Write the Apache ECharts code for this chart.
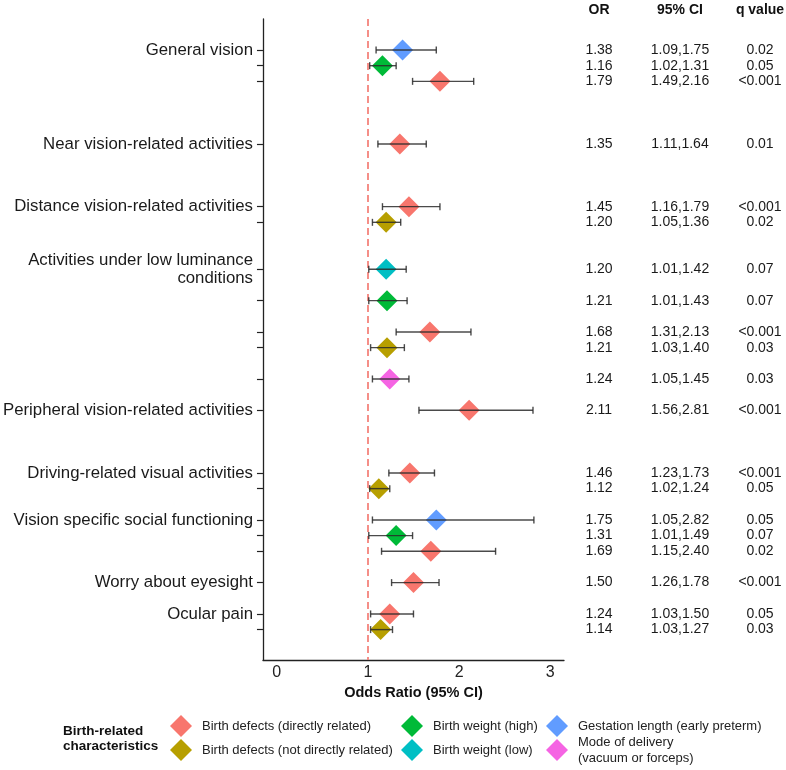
<!DOCTYPE html>
<html><head><meta charset="utf-8">
<script src="https://cdn.jsdelivr.net/npm/echarts@6/dist/echarts.min.js"></script>
<style>html,body{margin:0;padding:0;background:#fff}#c{width:786px;height:770px}</style>
</head><body><div id="c"></div>
<script>
// ---- data ----
var categories = ['Birth defects (directly related)','Birth defects (not directly related)','Birth weight (high)','Birth weight (low)','Gestation length (early preterm)','Mode of delivery\n(vacuum or forceps)'];
var colors = ['#F8766D','#B79F00','#00BA38','#00BFC4','#619CFF','#F564E3'];
var outcomeRows = [0,6,10,14,23,27,30,34,36];
var outcomeNames = ['General vision','Near vision-related activities','Distance vision-related activities','Activities under low luminance\nconditions','Peripheral vision-related activities','Driving-related visual activities','Vision specific social functioning','Worry about eyesight','Ocular pain'];
var rows  = [0,1,2,6,10,11,14,16,18,19,21,23,27,28,30,31,32,34,36,37];
var group = [4,2,0,0,0,1,3,2,0,1,5,0,0,1,4,2,0,0,0,1];
var orVal = [1.38,1.16,1.79,1.35,1.45,1.20,1.20,1.21,1.68,1.21,1.24,2.11,1.46,1.12,1.75,1.31,1.69,1.50,1.24,1.14];
var lower = [1.09,1.02,1.49,1.11,1.16,1.05,1.01,1.01,1.31,1.03,1.05,1.56,1.23,1.02,1.05,1.01,1.15,1.26,1.03,1.03];
var upper = [1.75,1.31,2.16,1.64,1.79,1.36,1.42,1.43,2.13,1.40,1.45,2.81,1.73,1.24,2.82,1.49,2.40,1.78,1.50,1.27];
var qVal  = ['0.02','0.05','<0.001','0.01','<0.001','0.02','0.07','0.07','<0.001','0.03','0.03','<0.001','<0.001','0.05','0.05','0.07','0.02','<0.001','0.05','0.03'];
var xTicks = [0,1,2,3];
var headers = ['OR','95% CI','q value'];

var FONT = '"Liberation Sans", Arial, sans-serif';
var chart = echarts.init(document.getElementById('c'), null, {renderer:'canvas'});

var series = [];
categories.forEach(function(name, g){
  var d = [];
  rows.forEach(function(r,i){ if(group[i]===g) d.push([orVal[i], r]); });
  series.push({
    name: name, type:'scatter', symbol:'diamond', symbolSize:21,
    itemStyle:{color:colors[g], opacity:1}, data:d, z:3,
    emphasis:{disabled:true}
  });
});
// dashed reference line
series[0].markLine = {
  silent:true, symbol:'none', label:{show:false},
  lineStyle:{color:'#F4837C', type:[7,4], width:1.8},
  data:[{xAxis:1}]
};
// error bars
series.push({
  type:'custom', name:'ci', z:5, clip:false,
  data: rows.map(function(r,i){ return [lower[i], r, upper[i]]; }),
  renderItem: function(params, api){
    var a = api.coord([api.value(0), api.value(1)]);
    var b = api.coord([api.value(2), api.value(1)]);
    var h = 3.5;
    var st = {stroke:'#2a2a2a', lineWidth:1.4, opacity:0.85};
    return {type:'group', children:[
      {type:'line', shape:{x1:a[0],y1:a[1],x2:b[0],y2:b[1]}, style:st},
      {type:'line', shape:{x1:a[0],y1:a[1]-h,x2:a[0],y2:a[1]+h}, style:st},
      {type:'line', shape:{x1:b[0],y1:b[1]-h,x2:b[0],y2:b[1]+h}, style:st}
    ]};
  }
});
// right-side text columns
var colX = [599, 680, 760];
series.push({
  type:'custom', name:'tbl', z:5, clip:false, silent:true,
  data: rows.map(function(r,i){ return [orVal[i], r, i]; }),
  renderItem: function(params, api){
    var i = api.value(2);
    var y = api.coord([1, api.value(1)])[1];
    var txt = [orVal[i].toFixed(2), lower[i].toFixed(2)+','+upper[i].toFixed(2), qVal[i]];
    return {type:'group', children: txt.map(function(t,k){
      return {type:'text', x:colX[k], y:y, style:{text:t, align:'center', verticalAlign:'middle', fontSize:14, fontFamily:FONT, fill:'#1a1a1a'}};
    })};
  }
});

// legend centers: col left edges and row centre y
var legPos = [[170,726],[170,750],[401,726],[401,750],[546,726],[546,750]];
var legends = categories.map(function(name,g){
  var multi = name.indexOf('\n') >= 0;
  var hh = multi ? 16 : 11;
  return {
    data:[name], left:legPos[g][0], top:legPos[g][1]-hh, orient:'horizontal', padding:0,
    icon:'diamond', itemWidth:22, itemHeight:22, selectedMode:false,
    textStyle:{fontSize:13, fontFamily:FONT, color:'#222', lineHeight:16, padding:[0,0,0,5]}
  };
});

var graphics = headers.map(function(h,k){
  return {type:'text', x:colX[k], y:10, style:{text:h, align:'center', verticalAlign:'middle', fontSize:14, fontWeight:'bold', fontFamily:FONT, fill:'#111'}};
});
graphics.push({type:'text', x:63, y:739, style:{text:'Birth-related\ncharacteristics', align:'left', verticalAlign:'middle', fontSize:13.5, lineHeight:15, fontWeight:'bold', fontFamily:FONT, fill:'#111'}});

chart.setOption({
  animation:false,
  backgroundColor:'#fff',
  grid:{left:262, right:222, top:19, bottom:110, containLabel:false},
  xAxis:{
    type:'value', min:-0.15, max:3.15,
    name:'Odds Ratio (95% CI)', nameLocation:'middle', nameGap:25,
    nameTextStyle:{fontSize:14.5, fontWeight:'bold', fontFamily:FONT, color:'#111'},
    axisLine:{show:true, onZero:false, lineStyle:{color:'#222', width:1.3}},
    axisTick:{show:false},
    axisLabel:{customValues:xTicks, fontSize:16, fontFamily:FONT, color:'#222', margin:5},
    splitLine:{show:false}
  },
  yAxis:{
    type:'value', inverse:true, min:-1.98, max:38.94,
    axisLine:{show:true, onZero:false, lineStyle:{color:'#222', width:1.3}},
    axisTick:{show:true, customValues:rows, length:6, lineStyle:{color:'#222', width:1.2}},
    axisLabel:{customValues:outcomeRows, margin:10, fontSize:16.8, lineHeight:18, fontFamily:FONT, color:'#1a1a1a', align:'right',
      formatter:function(v){ var k = outcomeRows.indexOf(Math.round(v)); return k>=0 ? outcomeNames[k] : ''; }},
    splitLine:{show:false}
  },
  legend: legends,
  graphic: graphics,
  series: series
});
</script></body></html>
